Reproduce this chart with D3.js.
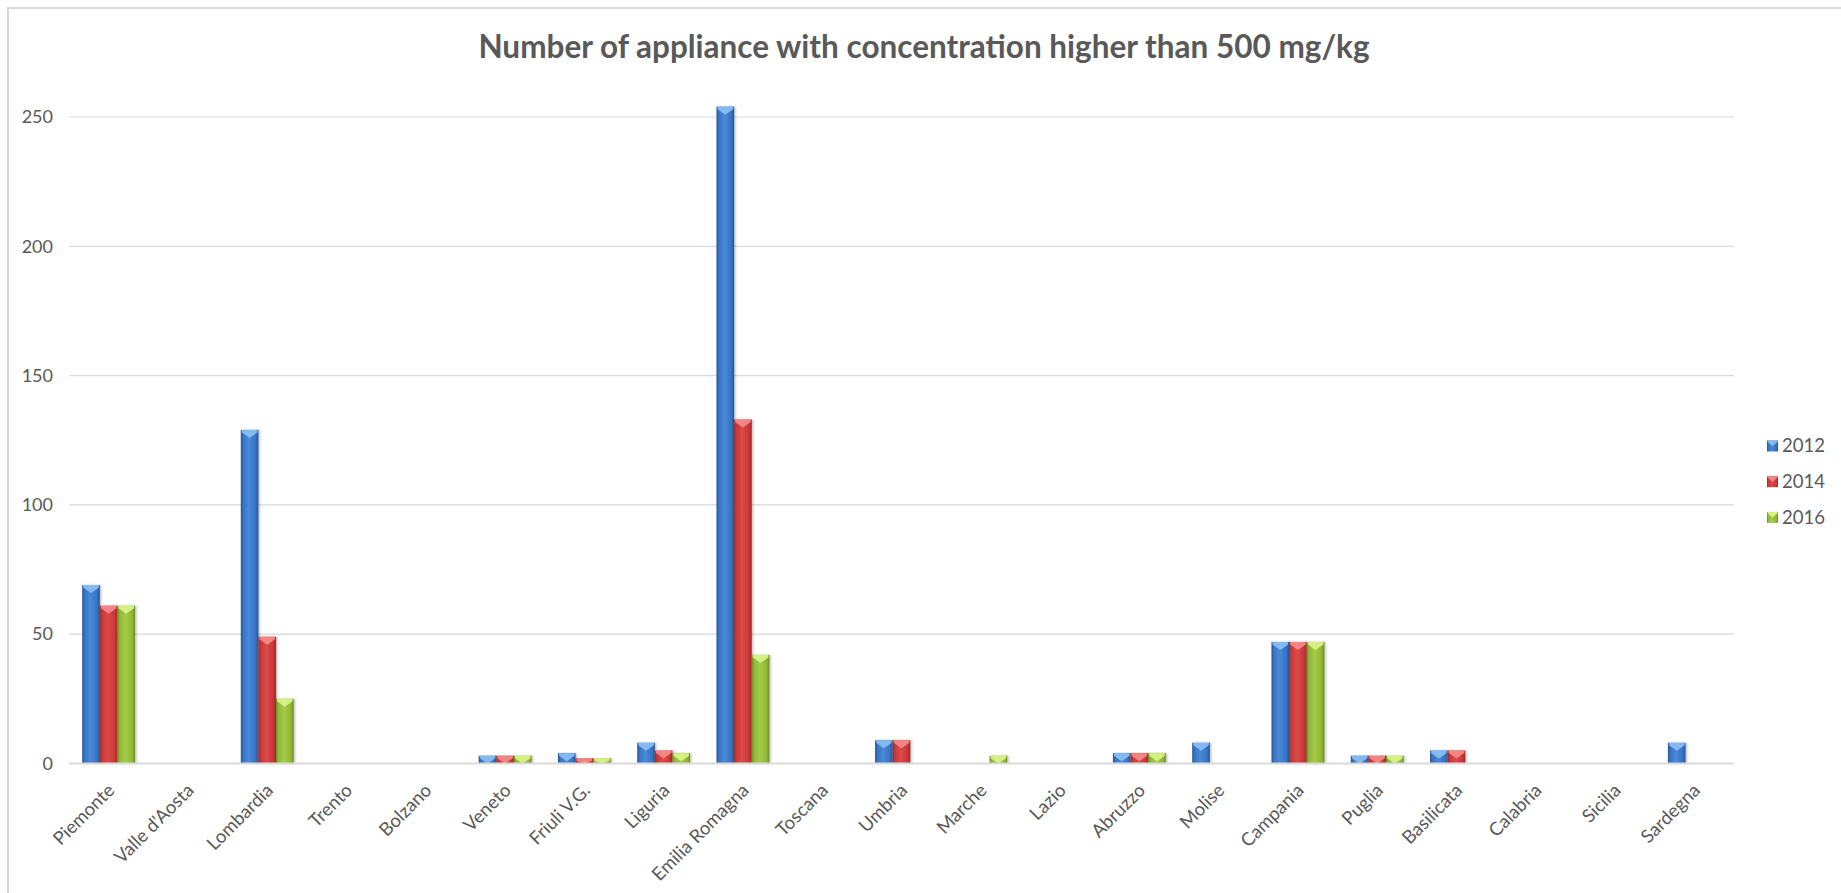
<!DOCTYPE html>
<html>
<head>
<meta charset="utf-8">
<script src="https://cdn.jsdelivr.net/npm/d3@7"></script>
<style>
  html, body { margin: 0; padding: 0; background: #ffffff; }
  svg { display: block; font-family: Lato, "Open Sans", sans-serif; }
</style>
</head>
<body>
<svg id="chart" width="1841" height="893"></svg>
<script>
// Regions of Italy along the category axis
const regions = ["Piemonte", "Valle d'Aosta", "Lombardia", "Trento", "Bolzano", "Veneto",
  "Friuli V.G.", "Liguria", "Emilia Romagna", "Toscana", "Umbria", "Marche", "Lazio",
  "Abruzzo", "Molise", "Campania", "Puglia", "Basilicata", "Calabria", "Sicilia", "Sardegna"];

// Survey years (legend entries)
const years = ["2012", "2014", "2016"];

// Number of appliances above 500 mg/kg, one array per year
const values2012 = [69, 0, 129, 0, 0, 3, 4, 8, 254, 0, 9, 0, 0, 4, 8, 47, 3, 5, 0, 0, 8];
const values2014 = [61, 0, 49, 0, 0, 3, 2, 5, 133, 0, 9, 0, 0, 4, 0, 47, 3, 5, 0, 0, 0];
const values2016 = [61, 0, 25, 0, 0, 3, 2, 4, 42, 0, 0, 3, 0, 4, 0, 47, 3, 0, 0, 0, 0];

// Value axis ticks
const yTicks = [0, 50, 100, 150, 200, 250];

const chartTitle = "Number of appliance with concentration higher than 500 mg/kg";

const seriesValues = [values2012, values2014, values2016];

// Bevelled fill colours per series: edge, body, highlight, top facet
const palette = [
  { edge: "#24528f", body: "#3572c2", light: "#4a8ad8", top: "#8cc0f4" },
  { edge: "#972626", body: "#c93636", light: "#dc4a4a", top: "#f58c8c" },
  { edge: "#688822", body: "#8fb636", light: "#a4cc48", top: "#daf48a" }
];

const svg = d3.select("#chart");
const defs = svg.append("defs");

palette.forEach((c, i) => {
  const g = defs.append("linearGradient").attr("id", "bar" + i)
    .attr("x1", "0%").attr("x2", "100%").attr("y1", "0%").attr("y2", "0%");
  g.append("stop").attr("offset", "0%").attr("stop-color", c.edge);
  g.append("stop").attr("offset", "12%").attr("stop-color", c.body);
  g.append("stop").attr("offset", "45%").attr("stop-color", c.light);
  g.append("stop").attr("offset", "85%").attr("stop-color", c.body);
  g.append("stop").attr("offset", "100%").attr("stop-color", c.edge);
});

const shadow = defs.append("filter").attr("id", "barShadow")
  .attr("x", "-20%").attr("y", "-5%").attr("width", "160%").attr("height", "110%");
shadow.append("feDropShadow").attr("dx", 1.5).attr("dy", 0).attr("stdDeviation", 1.2)
  .attr("flood-color", "#000").attr("flood-opacity", 0.25);

// Chart frame
svg.append("path")
  .attr("d", "M8,893 L8,8 L1841,8")
  .attr("fill", "none").attr("stroke", "#d9d9d9").attr("stroke-width", 2);

const plot = { left: 69, right: 1734, top: 117, bottom: 763.5 };

const x = d3.scaleBand().domain(regions).range([plot.left, plot.right]).paddingInner(0).paddingOuter(0);
const groupPad = 1.5 / 4.5; // gap width of 150% of one bar
const x1 = d3.scaleBand().domain(years)
  .range([x.bandwidth() * groupPad / 2, x.bandwidth() * (1 - groupPad / 2)]);
const y = d3.scaleLinear().domain([0, 250]).range([plot.bottom, plot.top]);

// Gridlines
svg.append("g")
  .selectAll("line").data(yTicks.filter(t => t > 0)).join("line")
  .attr("x1", plot.left).attr("x2", plot.right)
  .attr("y1", d => y(d)).attr("y2", d => y(d))
  .attr("stroke", "#d9d9d9").attr("stroke-width", 1.2);

// Value axis labels
const yAxis = d3.axisLeft(y).tickValues(yTicks).tickSize(0).tickPadding(16);
const yg = svg.append("g").attr("transform", `translate(${plot.left},0)`).call(yAxis);
yg.select(".domain").remove();
yg.selectAll("text").attr("fill", "#595959").style("font-size", "18px").style("font-family", "Lato, sans-serif");

// Bars
const groups = svg.append("g").selectAll("g").data(regions).join("g")
  .attr("transform", d => `translate(${x(d)},0)`);

const bars = groups.selectAll("g.bar")
  .data((r, i) => years.map((yr, s) => ({ year: yr, s, v: seriesValues[s][i] })).filter(d => d.v > 0))
  .join("g").attr("class", "bar");

bars.append("rect")
  .attr("x", d => x1(d.year))
  .attr("width", x1.bandwidth())
  .attr("y", d => y(d.v))
  .attr("height", d => y(0) - y(d.v))
  .attr("fill", d => `url(#bar${d.s})`)
  .attr("filter", "url(#barShadow)");

// Top bevel facet with a downward chevron
bars.append("path")
  .attr("d", d => {
    const x0 = x1(d.year), w = x1.bandwidth(), t = y(d.v);
    const h = Math.min(y(0) - t, 8);
    const rim = Math.min(h, 2.5);
    return `M${x0 + 1},${t} L${x0 + w - 1},${t} L${x0 + w - 1},${t + rim} ` +
           `L${x0 + w / 2},${t + h} L${x0 + 1},${t + rim} Z`;
  })
  .attr("fill", d => palette[d.s].top)
  .attr("opacity", 0.9);

// Category axis line
svg.append("line")
  .attr("x1", plot.left).attr("x2", plot.right)
  .attr("y1", y(0)).attr("y2", y(0))
  .attr("stroke", "#d9d9d9").attr("stroke-width", 2);

// Category labels, rotated
svg.append("g").selectAll("text").data(regions).join("text")
  .attr("transform", d => `translate(${x(d) + x.bandwidth() / 2 + 7},${plot.bottom + 28}) rotate(-45)`)
  .attr("text-anchor", "end")
  .attr("fill", "#595959")
  .style("font-size", "18.5px")
  .text(d => d);

// Title
svg.append("text")
  .attr("x", 924).attr("y", 58)
  .attr("text-anchor", "middle")
  .attr("fill", "#595959")
  .style("font-size", "31.5px").style("font-weight", "bold")
  .text(chartTitle);

// Legend
const legend = svg.append("g").selectAll("g").data(years).join("g")
  .attr("transform", (d, i) => `translate(1767,${446 + i * 35.7})`);
legend.append("rect")
  .attr("x", 0).attr("y", -5.5).attr("width", 11).attr("height", 11)
  .attr("fill", (d, i) => `url(#bar${i})`);
legend.append("path")
  .attr("d", "M0.5,-5.5 L10.5,-5.5 L10.5,-4 L5.5,0 L0.5,-4 Z")
  .attr("fill", (d, i) => palette[i].top).attr("opacity", 0.9);
legend.append("text")
  .attr("x", 15).attr("y", 0).attr("dy", "0.35em")
  .attr("fill", "#595959")
  .style("font-size", "18.5px")
  .text(d => d);
</script>
</body>
</html>
